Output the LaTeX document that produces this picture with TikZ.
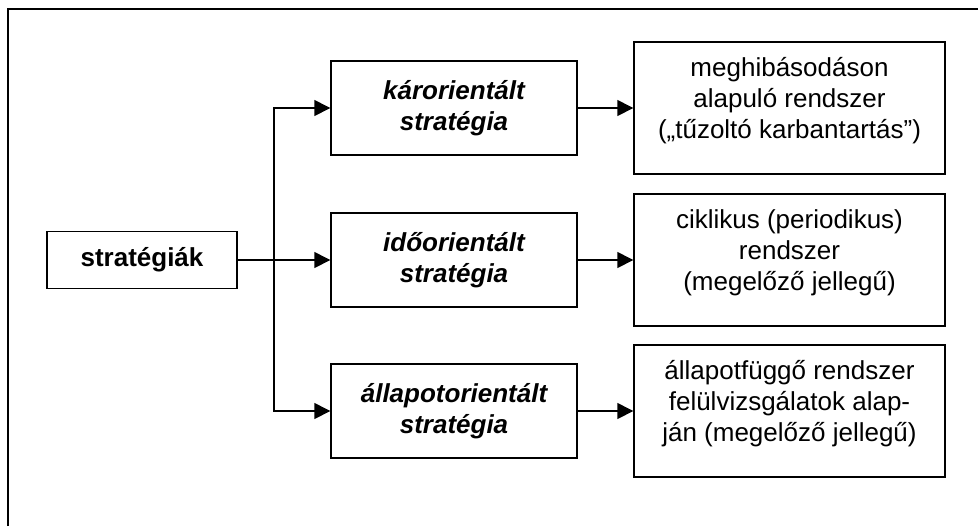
\documentclass[tikz,border=0pt]{standalone}
\usepackage{fontspec}
\setmainfont{Liberation Sans}
\usetikzlibrary{arrows.meta}

\begin{document}
\begin{tikzpicture}[x=0.5pt,y=-0.5pt,
        font=\fontsize{13}{15.5}\selectfont,
        box/.style={draw,line width=0.7pt,align=center,inner sep=0pt},
        rootbox/.style={box,font=\fontsize{13}{15.5}\selectfont\bfseries,minimum width=95pt,minimum height=28.5pt},
        kindbox/.style={box,font=\fontsize{13}{15.5}\selectfont\bfseries\itshape,minimum width=123pt,minimum height=47pt},
        systembox/.style={box,minimum width=155.5pt,minimum height=66pt,text depth=10pt},
        arr/.style={line width=0.7pt,-{Triangle[length=8pt,width=8pt]}}]
            \useasboundingbox (0,0) rectangle (978,526);
            \draw[line width=1pt] (8,526) -- (8,9) -- (978,9);

            \node[rootbox] (strat) at (142,260) {stratégiák};

            \node[kindbox] (kar) at (454,108) {károrientált\\stratégia};
            \node[kindbox] (ido) at (454,260) {időorientált\\stratégia};
            \node[kindbox] (allapot) at (454,411) {állapotorientált\\stratégia};

            \node[systembox] (tuzolto) at (789.5,108) {meghibásodáson\\alapuló rendszer\\(„tűzoltó karbantartás”)};
            \node[systembox] (ciklikus) at (789.5,260) {ciklikus (periodikus)\\rendszer\\(megelőző jellegű)};
            \node[systembox] (allapotfuggo) at (789.5,411) {állapotfüggő rendszer\\felülvizsgálatok alap-\\ján (megelőző jellegű)};

            \coordinate (fork) at (274,260);
            \draw[arr] (strat) -- (ido);
            \draw[arr] (fork) |- (kar);
            \draw[arr] (fork) |- (allapot);

            \draw[arr] (kar) -- (tuzolto);
            \draw[arr] (ido) -- (ciklikus);
            \draw[arr] (allapot) -- (allapotfuggo);
        \end{tikzpicture}
\end{document}
